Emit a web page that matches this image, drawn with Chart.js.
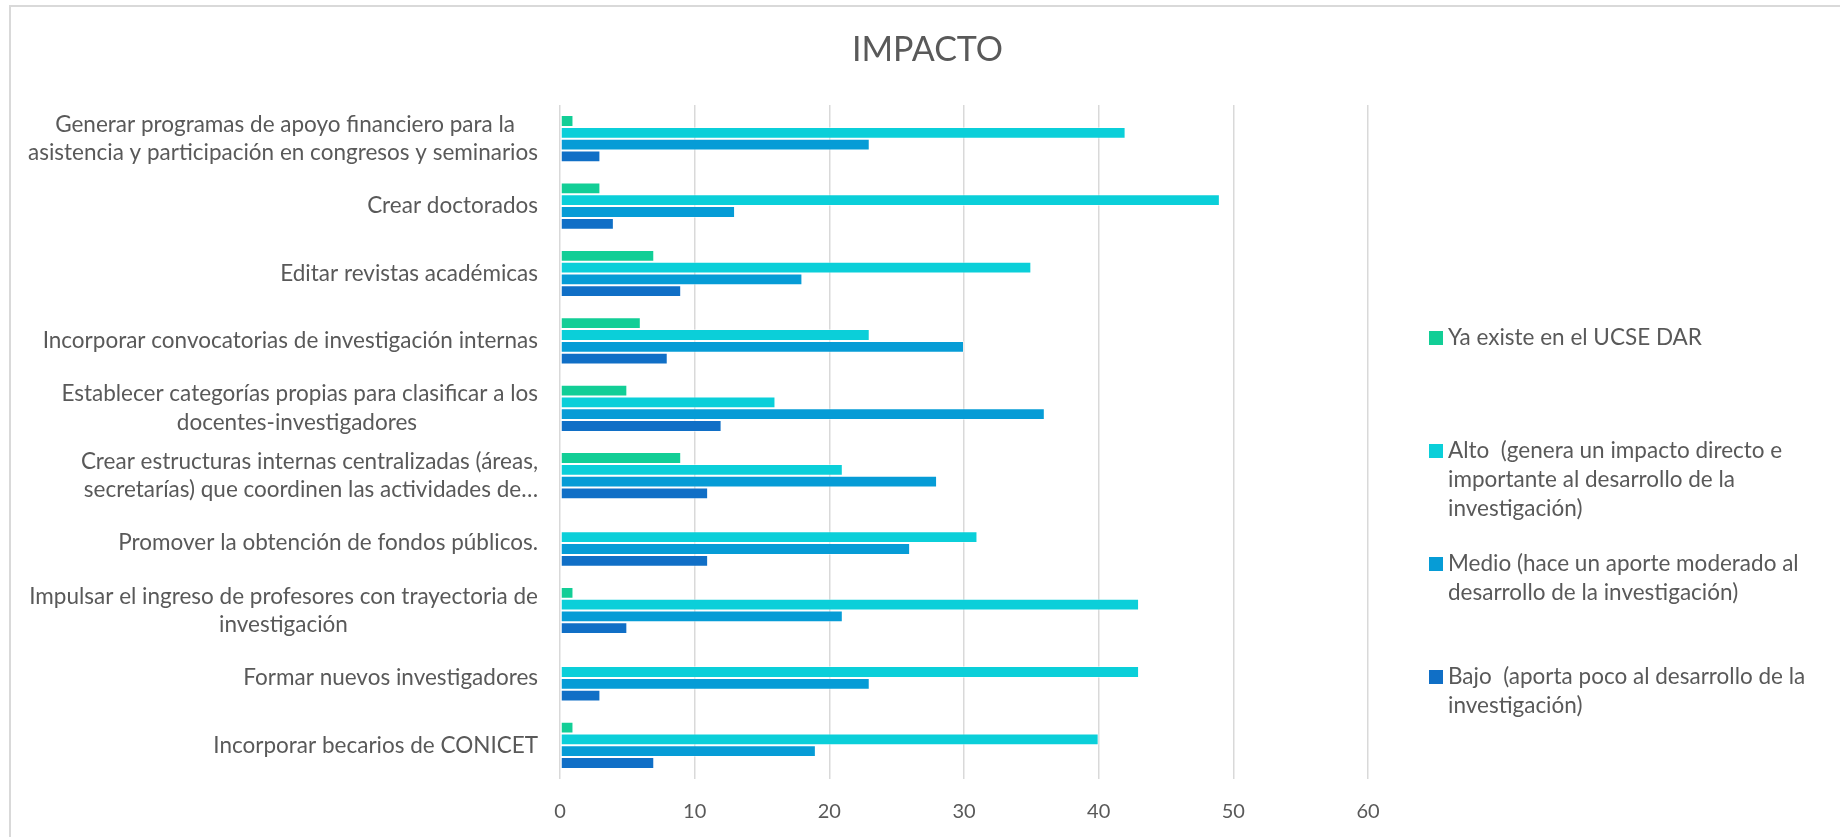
<!DOCTYPE html>
<html>
<head>
<meta charset="utf-8">
<title>IMPACTO</title>
<script src="https://cdn.jsdelivr.net/npm/chart.js@4.4.1/dist/chart.umd.min.js"></script>
<style>
  html, body { margin: 0; padding: 0; background: #ffffff; }
  #wrap { position: relative; width: 1840px; height: 837px; overflow: hidden; }
  #wrap canvas { position: absolute; left: 0; top: 0; }
  #frame { position: absolute; left: 9px; top: 5px; width: 1900px; height: 900px;
           border: 2px solid #D9D9D9; box-sizing: border-box; pointer-events: none; }
</style>
</head>
<body>
<div id="wrap">
  <canvas id="chart" width="1840" height="837"></canvas>
  <div id="frame"></div>
</div>
<script>
// Categories, top to bottom (each entry is the wrapped label lines)
const categories = [
  ['Generar programas de apoyo financiero para la', 'asistencia y participación en congresos y seminarios'],
  ['Crear doctorados'],
  ['Editar revistas académicas'],
  ['Incorporar convocatorias de investigación internas'],
  ['Establecer categorías propias para clasificar a los', 'docentes-investigadores'],
  ['Crear estructuras internas centralizadas (áreas,', 'secretarías) que coordinen las actividades de…'],
  ['Promover la obtención de fondos públicos.'],
  ['Impulsar el ingreso de profesores con trayectoria de', 'investigación'],
  ['Formar nuevos investigadores'],
  ['Incorporar becarios de CONICET']
];

// Series names, as wrapped legend lines
const seriesYaExisteName = ['Ya existe en el UCSE DAR'];
const seriesAltoName = ['Alto  (genera un impacto directo e', 'importante al desarrollo de la', 'investigación)'];
const seriesMedioName = ['Medio (hace un aporte moderado al', 'desarrollo de la investigación)'];
const seriesBajoName = ['Bajo  (aporta poco al desarrollo de la', 'investigación)'];

// Series values, one per category
const yaExiste = [1, 3, 7, 6, 5, 9, 0, 1, 0, 1];
const alto     = [42, 49, 35, 23, 16, 21, 31, 43, 43, 40];
const medio    = [23, 13, 18, 30, 36, 28, 26, 21, 23, 19];
const bajo     = [3, 4, 9, 8, 12, 11, 11, 5, 3, 7];

// Value axis ticks
const xTicks = [0, 10, 20, 30, 40, 50, 60];

const FONT = 'Lato, "Open Sans", "DejaVu Sans", sans-serif';
const TEXT_COLOR = '#595959';
const GRID_COLOR = '#D9D9D9';
const COLORS = ['#12CE96', '#0BCFD9', '#069CD6', '#106FC6'];

Chart.defaults.font.family = FONT;
Chart.defaults.color = TEXT_COLOR;

// Pad the shorter lines of a wrapped label so every line sits centred
// under the longest one when the block is right-aligned.
const measureCtx = document.createElement('canvas').getContext('2d');
function centredLines(lines, fontPx) {
  if (lines.length < 2) return lines.slice();
  measureCtx.font = fontPx + 'px ' + FONT;
  const widths = lines.map(l => measureCtx.measureText(l).width);
  const maxW = Math.max(...widths);
  const spaceW = measureCtx.measureText(' ').width;
  return lines.map((l, i) => l + ' '.repeat(Math.max(0, Math.round((maxW - widths[i]) / 2 / spaceW))));
}

const LABEL_PX = 22.5;
const LEGEND_PX = 22.5;
const labels = categories.map(c => centredLines(c, LABEL_PX));

const seriesNames = [seriesYaExisteName, seriesAltoName, seriesMedioName, seriesBajoName];
const seriesValues = [yaExiste, alto, medio, bajo];

const datasets = seriesNames.map((name, i) => ({
  label: name.join(' '),
  legendLines: name,
  data: seriesValues[i],
  backgroundColor: COLORS[i],
  borderColor: 'rgba(255,255,255,0.45)',
  borderWidth: 1,
  borderSkipped: false,
  categoryPercentage: 0.7,
  barPercentage: 1.0
}));

// Legend drawn as its own layout box on the right of the plot
const sideLegend = {
  id: 'sideLegend',
  beforeInit(chart) {
    const box = {
      position: 'right',
      weight: 0,
      fullSize: false,
      options: { display: true },
      left: 0, top: 0, right: 0, bottom: 0, width: 0, height: 0,
      isHorizontal() { return false; },
      update(maxWidth, maxHeight) { this.width = 472; this.height = maxHeight; },
      draw() {
        const ctx = chart.ctx;
        const markerX = this.left + 61;
        const firstRow = this.top + 233;
        const rowStep = 113;
        const lineStep = 28.7;
        ctx.save();
        ctx.textBaseline = 'middle';
        ctx.textAlign = 'left';
        ctx.font = LEGEND_PX + 'px ' + FONT;
        chart.data.datasets.forEach((ds, i) => {
          const y = firstRow + i * rowStep;
          ctx.fillStyle = ds.backgroundColor;
          ctx.fillRect(markerX, y - 7, 14, 14);
          ctx.fillStyle = TEXT_COLOR;
          ds.legendLines.forEach((line, j) => ctx.fillText(line, markerX + 19, y + j * lineStep));
        });
        ctx.restore();
      }
    };
    Chart.layouts.addBox(chart, box);
  }
};

new Chart(document.getElementById('chart'), {
  type: 'bar',
  data: { labels: labels, datasets: datasets },
  plugins: [sideLegend],
  options: {
    indexAxis: 'y',
    responsive: false,
    animation: false,
    devicePixelRatio: 1,
    layout: { padding: { left: 15, right: 0, top: 0, bottom: 0 } },
    plugins: {
      legend: { display: false },
      tooltip: { enabled: false },
      title: {
        display: true,
        text: 'IMPACTO',
        color: TEXT_COLOR,
        font: { size: 34, weight: 'normal', family: FONT, lineHeight: 1.2 },
        padding: { top: 29.6, bottom: 34.6 }
      }
    },
    scales: {
      x: {
        min: xTicks[0],
        max: xTicks[xTicks.length - 1],
        afterBuildTicks(scale) { scale.ticks = xTicks.map(v => ({ value: v })); },
        ticks: { color: TEXT_COLOR, font: { size: 20, lineHeight: 1.2 }, padding: 13 },
        grid: { color: GRID_COLOR, lineWidth: 1.5, drawTicks: true, tickLength: 8, tickColor: 'rgba(0,0,0,0)' },
        border: { display: false }
      },
      y: {
        grid: { display: false, drawTicks: false },
        border: { display: false },
        ticks: { color: TEXT_COLOR, font: { size: LABEL_PX, lineHeight: 28.3 / LABEL_PX }, padding: 22, autoSkip: false },
        afterFit(scale) { scale.width = 545; }
      }
    }
  }
});
</script>
</body>
</html>
